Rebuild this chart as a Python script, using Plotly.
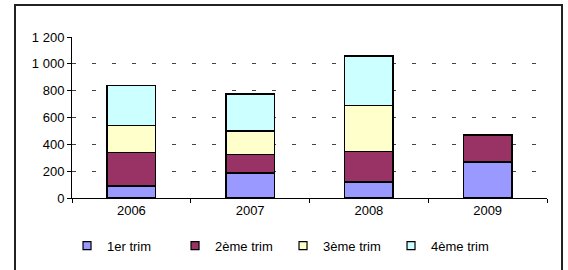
import plotly.graph_objects as go

years = ["2006", "2007", "2008", "2009"]
trim1 = [90, 185, 120, 270]
trim2 = [250, 140, 225, 200]
trim3 = [200, 175, 345, None]
trim4 = [300, 275, 370, None]
series_names = ["1er trim", "2ème trim", "3ème trim", "4ème trim"]
colors = ["#9999FF", "#993366", "#FFFFCC", "#CCFFFF"]
y_tickvals = [0, 200, 400, 600, 800, 1000, 1200]
y_ticktext = ["0", "200", "400", "600", "800", "1 000", "1 200"]

fig = go.Figure()
for name, vals, col in zip(series_names, [trim1, trim2, trim3, trim4], colors):
    fig.add_trace(go.Bar(
        x=years, y=vals, name=name, legendgroup=name, showlegend=False,
        marker=dict(color=col, line=dict(color="#000000", width=1.5)),
        width=0.41,
    ))
    # legend entry with a small square swatch
    fig.add_trace(go.Scatter(
        x=[None], y=[None], mode="markers", name=name, legendgroup=name,
        marker=dict(symbol="square", size=8, color=col,
                    line=dict(color="#000000", width=1.2)),
    ))

fig.update_layout(
    barmode="stack",
    width=568, height=270,
    margin=dict(l=72, r=21, t=37, b=72),
    paper_bgcolor="white", plot_bgcolor="white",
    font=dict(family="Liberation Sans, Arial", size=13, color="#000000"),
    showlegend=True,
    legend=dict(
        orientation="h", xref="container", yref="container",
        x=0.118, xanchor="left", y=0.09, yanchor="middle",
        entrywidth=63, entrywidthmode="pixels",
        itemwidth=30, font=dict(size=13), traceorder="normal",
    ),
    bargap=0.59,
)
fig.update_xaxes(
    type="category", showline=True, linecolor="#000000", linewidth=1,
    ticks="outside", tickson="boundaries", ticklen=4, tickcolor="#000000",
    showgrid=False,
)
fig.update_yaxes(
    range=[0, 1200], tickvals=y_tickvals, ticktext=y_ticktext,
    showline=True, linecolor="#000000", linewidth=1,
    ticks="outside", ticklen=4, tickcolor="#000000",
    showgrid=True, gridcolor="#444444", gridwidth=1, griddash="4px,16px",
    zeroline=False,
)
fig.add_shape(type="path", xref="paper", yref="paper",
              path="M -0.12,-0.6 L -0.12,1.199 L 1.0316,1.199 L 1.0316,-0.6",
              line=dict(color="#222222", width=2))
fig.write_html("out.html",
               config={"displayModeBar": False},
               post_script="document.body.style.margin='0px';")
